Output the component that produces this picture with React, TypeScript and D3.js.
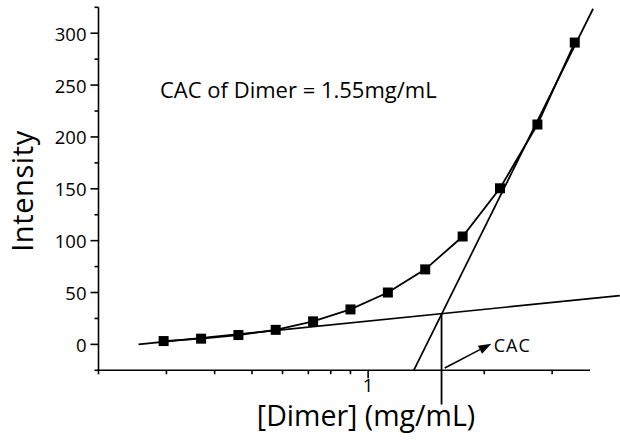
import React from "react";
import * as d3 from "d3";

// Dimer concentration series (mg/mL) and measured fluorescence intensity
const concentration = [0.295, 0.369, 0.461, 0.576, 0.72, 0.9, 1.125, 1.406, 1.758, 2.197, 2.747, 3.433];
const intensity = [3.2, 5.5, 9, 14, 22.2, 33.7, 50, 72.3, 104, 150.5, 212, 291];

// Two straight-line fits (linear in log10 concentration): below and above the CAC
const lowFitX = [0.254, 4.49];
const lowFitY = [0, 47];
const highFitX = [1.313, 3.83];
const highFitY = [-25, 323.6];

// Critical aggregation concentration and the intensity where the fits cross
const cacValue = 1.55;
const cacIntensity = 29.6;

const yTicks = [0, 50, 100, 150, 200, 250, 300];
const yMinorTicks = [-25, 25, 75, 125, 175, 225, 275, 325];
const xMajorTicks = [1];
const xMinorTicks = [0.2, 0.3, 0.4, 0.5, 0.6, 0.7, 0.8, 0.9, 2, 3];

const FONT = "'Open Sans', 'DejaVu Sans', sans-serif";

export default function App() {
  const width = 620;
  const height = 445;
  const left = 98.5;
  const right = 590;
  const top = 7.3;
  const bottom = 370.3;

  const x = d3.scaleLog().domain([0.2, 3.76]).range([left, right]);
  const y = d3.scaleLinear().domain([-25, 325]).range([bottom, top]);

  const line = d3
    .line<[number, number]>()
    .x((d) => x(d[0]))
    .y((d) => y(d[1]));

  const dataPts: [number, number][] = concentration.map((c, i) => [c, intensity[i]]);
  const lowPts: [number, number][] = lowFitX.map((c, i) => [c, lowFitY[i]]);
  const highPts: [number, number][] = highFitX.map((c, i) => [c, highFitY[i]]);

  const markerSize = 10;

  // arrow pointing at the CAC label
  const arrowStart: [number, number] = [x(1.58), y(-22.8)];
  const arrowEnd: [number, number] = [x(2.088), y(0.7)];
  const ang = Math.atan2(arrowEnd[1] - arrowStart[1], arrowEnd[0] - arrowStart[0]);
  const headLen = 13;
  const headW = 4.5;
  const hx = arrowEnd[0] - headLen * Math.cos(ang);
  const hy = arrowEnd[1] - headLen * Math.sin(ang);
  const head = [
    [arrowEnd[0], arrowEnd[1]],
    [hx + headW * Math.sin(ang), hy - headW * Math.cos(ang)],
    [hx - headW * Math.sin(ang), hy + headW * Math.cos(ang)],
  ]
    .map((p) => p.join(","))
    .join(" ");

  return (
    <svg
      width={width}
      height={height}
      style={{ position: "absolute", left: 0, top: 0, background: "#fff" }}
      fontFamily={FONT}
    >
      <rect width={width} height={height} fill="#fff" />

      {/* fit lines */}
      <path d={line(lowPts) ?? ""} fill="none" stroke="#000" strokeWidth={1.7} />
      <path d={line(highPts) ?? ""} fill="none" stroke="#000" strokeWidth={1.7} />

      {/* data series */}
      <path d={line(dataPts) ?? ""} fill="none" stroke="#000" strokeWidth={1.8} />
      {dataPts.map((d, i) => (
        <rect
          key={i}
          x={x(d[0]) - markerSize / 2}
          y={y(d[1]) - markerSize / 2}
          width={markerSize}
          height={markerSize}
          fill="#000"
        />
      ))}

      {/* CAC drop line */}
      <line
        x1={x(cacValue)}
        x2={x(cacValue)}
        y1={y(cacIntensity)}
        y2={y(-58)}
        stroke="#000"
        strokeWidth={1.8}
      />

      {/* arrow and label */}
      <line
        x1={arrowStart[0]}
        y1={arrowStart[1]}
        x2={hx}
        y2={hy}
        stroke="#000"
        strokeWidth={1.6}
      />
      <polygon points={head} fill="#000" />
      <text x={x(2.117)} y={y(-7.4)} fontSize={18} letterSpacing={1} fill="#000">
        CAC
      </text>

      <text x={160} y={98} fontSize={22} fill="#000">
        CAC of Dimer = 1.55mg/mL
      </text>

      {/* y axis */}
      <line x1={left} x2={left} y1={top} y2={bottom} stroke="#000" strokeWidth={1.6} />
      {yTicks.map((t) => (
        <g key={t}>
          <line x1={left - 8} x2={left} y1={y(t)} y2={y(t)} stroke="#000" strokeWidth={1.6} />
          <text
            x={left - 12}
            y={y(t)}
            textAnchor="end"
            dominantBaseline="central"
            fontSize={18.5}
            fill="#000"
          >
            {t}
          </text>
        </g>
      ))}
      {yMinorTicks.map((t) => (
        <line key={t} x1={left - 4} x2={left} y1={y(t)} y2={y(t)} stroke="#000" strokeWidth={1.6} />
      ))}

      {/* x axis */}
      <line x1={left - 0.8} x2={right} y1={bottom} y2={bottom} stroke="#000" strokeWidth={1.6} />
      {xMajorTicks.map((t) => (
        <g key={t}>
          <line x1={x(t)} x2={x(t)} y1={bottom} y2={bottom + 8} stroke="#000" strokeWidth={1.6} />
          <text x={x(t)} y={bottom + 22} textAnchor="middle" fontSize={18.5} fill="#000">
            {t}
          </text>
        </g>
      ))}
      {xMinorTicks.map((t) => (
        <line key={t} x1={x(t)} x2={x(t)} y1={bottom} y2={bottom + 4} stroke="#000" strokeWidth={1.6} />
      ))}

      {/* axis titles */}
      <text x={366} y={426} textAnchor="middle" fontSize={28.5} fill="#000">
        [Dimer] (mg/mL)
      </text>
      <text
        transform={`translate(33, 191) rotate(-90)`}
        textAnchor="middle"
        fontSize={29}
        letterSpacing={0.6}
        fill="#000"
      >
        Intensity
      </text>
    </svg>
  );
}
